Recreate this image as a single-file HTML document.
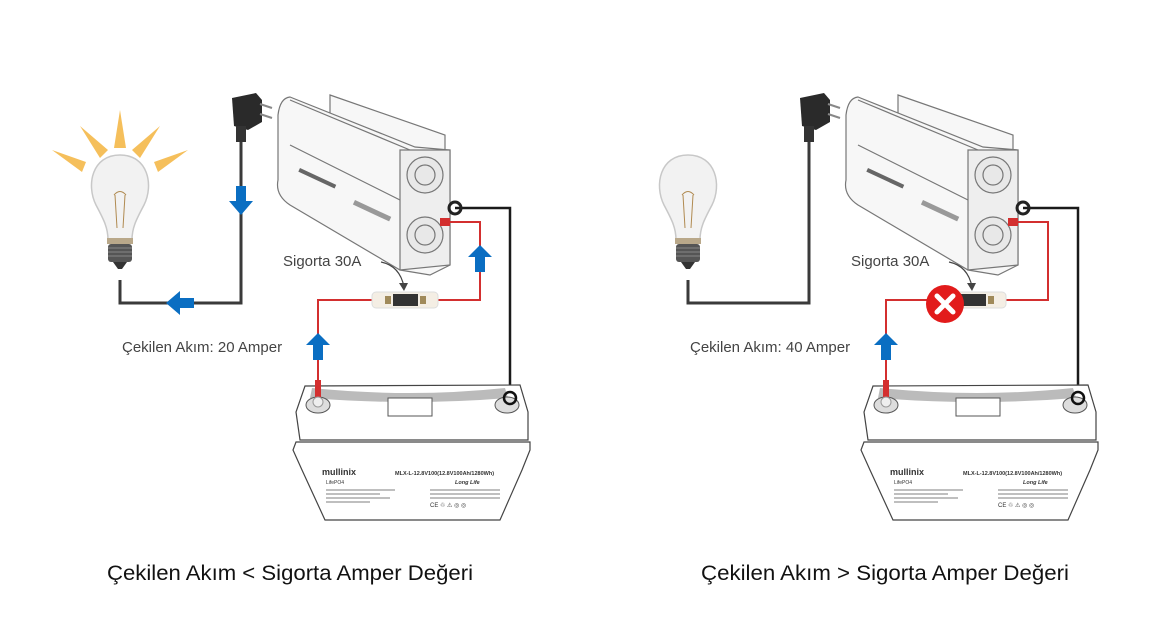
<!DOCTYPE html>
<html><head><meta charset="utf-8"><style>
html,body{margin:0;padding:0;background:#fff}
svg{display:block}
text{font-family:"Liberation Sans",sans-serif}
</style></head><body>
<svg width="1176" height="631" viewBox="0 0 1176 631" xmlns="http://www.w3.org/2000/svg">
<defs>
<g id="base">
  <path d="M120 155 C92 155 86 185 96 205 C104 220 108 228 108 240 L132 240 C132 228 136 220 144 205 C154 185 148 155 120 155 Z" fill="#f2f2f2" stroke="#c8c8c8" stroke-width="1.5"/>
  <path d="M115 195 L117 228 M125 195 L123 228 M114 195 Q120 188 126 195" stroke="#b08a50" stroke-width="1" fill="none"/>
  <rect x="107" y="238" width="26" height="6" fill="#b9a88a"/>
  <rect x="108" y="244" width="24" height="18" rx="3" fill="#555"/>
  <path d="M108 248 H132 M108 252 H132 M108 256 H132" stroke="#888" stroke-width="1"/>
  <path d="M113 262 L127 262 L122 269 L118 269 Z" fill="#333"/>
  <path d="M232 98 L256 93 L262 100 L262 122 L248 130 L234 126 Z" fill="#2a2a2a"/>
  <path d="M260 104 L272 108 M260 114 L272 118" stroke="#888" stroke-width="2"/>
  <rect x="236" y="126" width="10" height="16" fill="#333"/>
  <path d="M241 142 V303 H120 V280" fill="none" stroke="#3a3a3a" stroke-width="3"/>
  <g stroke="#777" stroke-width="1.2" fill="#f7f7f7">
    <path d="M330 95 L445 135 L445 165 L330 120 Z"/>
    <path d="M290 97 L415 147 L450 150 L450 265 L430 275 L400 270 L290 205 Q275 195 278 180 L278 115 Q280 98 290 97 Z"/>
    <path d="M400 150 L450 150 L450 265 L400 270 Z" fill="#eee"/>
    <circle cx="425" cy="175" r="18" fill="#e8e8e8"/>
    <circle cx="425" cy="175" r="10" fill="none"/>
    <circle cx="425" cy="235" r="18" fill="#e8e8e8"/>
    <circle cx="425" cy="235" r="10" fill="none"/>
    <path d="M290 100 L410 150 M290 145 L400 200" fill="none"/>
  </g>
  <rect x="300" y="168" width="40" height="4" fill="#666" transform="rotate(25 300 168)"/>
  <rect x="355" y="200" width="40" height="5" fill="#999" transform="rotate(25 355 200)"/>
  <path d="M455 208 H510 V392" fill="none" stroke="#1a1a1a" stroke-width="2.5"/>
  <circle cx="455" cy="208" r="6" fill="none" stroke="#222" stroke-width="3"/>
  <g stroke="#444" stroke-width="1.2" fill="#fff">
    <path d="M305 386 L520 385 L528 412 L528 440 L300 440 L296 412 Z"/>
    <path d="M296 442 L530 442 L530 450 L522 470 L500 520 L325 520 L302 470 L293 450 Z"/>
  </g>
  <path d="M312 388 Q410 398 505 388 L508 398 Q410 406 310 398 Z" fill="#bbb"/>
  <rect x="388" y="398" width="44" height="18" fill="#fff" stroke="#555"/>
  <ellipse cx="318" cy="405" rx="12" ry="8" fill="#ddd" stroke="#555"/>
  <ellipse cx="507" cy="405" rx="12" ry="8" fill="#ddd" stroke="#555"/>
  <circle cx="510" cy="398" r="6" fill="none" stroke="#111" stroke-width="2.5"/>
  <text x="322" y="475" font-size="9" font-weight="bold" fill="#333">mullinix</text>
  <text x="395" y="475" font-size="5.5" font-weight="bold" fill="#333">MLX-L-12.8V100(12.8V100Ah/1280Wh)</text>
  <text x="326" y="484" font-size="5" fill="#333">LifePO4</text>
  <text x="455" y="484" font-size="5.5" font-style="italic" font-weight="bold" fill="#333">Long Life</text>
  <path d="M326 490 H395 M326 494 H380 M326 498 H390 M326 502 H370 M430 490 H500 M430 494 H500 M430 498 H500" stroke="#999" stroke-width="1.2"/>
  <text x="430" y="507" font-size="6" fill="#333">CE ♲ ⚠ ◎ ◎</text>
  <path d="M444 222 H480 V300 H438 M372 300 H318 V400" fill="none" stroke="#d32f2f" stroke-width="2"/>
  <rect x="440" y="218" width="10" height="8" fill="#d32f2f"/>
  <rect x="315" y="380" width="6" height="20" fill="#d32f2f"/>
  <circle cx="318" cy="402" r="5" fill="#eee" stroke="#999"/>
  <rect x="372" y="292" width="66" height="16" rx="4" fill="#f4eee4" stroke="#ddd"/>
  <rect x="393" y="294" width="25" height="12" fill="#333"/>
  <rect x="385" y="296" width="6" height="8" fill="#a08a5a"/>
  <rect x="420" y="296" width="6" height="8" fill="#a08a5a"/>
  <text x="283" y="266" font-size="15" fill="#444">Sigorta 30A</text>
  <path d="M381 262 Q400 266 404 287" fill="none" stroke="#444" stroke-width="1.2"/>
  <path d="M399 283 L404 291 L408 283 Z" fill="#444"/>
  <text x="122" y="352" font-size="15" fill="#444">Çekilen Akım: 20 Amper</text>
  <path d="M318 333 L330 345 L323 345 L323 360 L313 360 L313 345 L306 345 Z" fill="#0a6ec2"/>
</g>
<path id="upar" d="M0 -12 L12 0 L5 0 L5 15 L-5 15 L-5 0 L-12 0 Z" fill="#0a6ec2"/>
</defs>

<use href="#base"/>
<g fill="#f5b94a" opacity="0.9">
  <path d="M120 110 L114 148 L126 148 Z"/>
  <path d="M80 126 L100 158 L108 150 Z"/>
  <path d="M160 126 L140 158 L132 150 Z"/>
  <path d="M52 150 L82 172 L86 162 Z"/>
  <path d="M188 150 L158 172 L154 162 Z"/>
</g>
<path d="M241 215 L229 201 L236 201 L236 186 L246 186 L246 201 L253 201 Z" fill="#0a6ec2"/>
<path d="M166 303 L180 291 L180 298 L194 298 L194 308 L180 308 L180 315 Z" fill="#0a6ec2"/>
<use href="#upar" x="480" y="257"/>
<text x="290" y="580" font-size="21.5" fill="#111" text-anchor="middle" textLength="366" lengthAdjust="spacingAndGlyphs">Çekilen Akım &lt; Sigorta Amper Değeri</text>

<g transform="translate(568,0)">
  <use href="#base"/>
  <rect x="120" y="340" width="180" height="18" fill="#fff"/>
  <text x="122" y="352" font-size="15" fill="#444">Çekilen Akım: 40 Amper</text>
  <circle cx="377" cy="304" r="19" fill="#e21b1b"/>
  <path d="M369 296 L385 312 M385 296 L369 312" stroke="#fff" stroke-width="5" stroke-linecap="round"/>
</g>
<text x="885" y="580" font-size="21.5" fill="#111" text-anchor="middle" textLength="368" lengthAdjust="spacingAndGlyphs">Çekilen Akım &gt; Sigorta Amper Değeri</text>
</svg>
</body></html>
